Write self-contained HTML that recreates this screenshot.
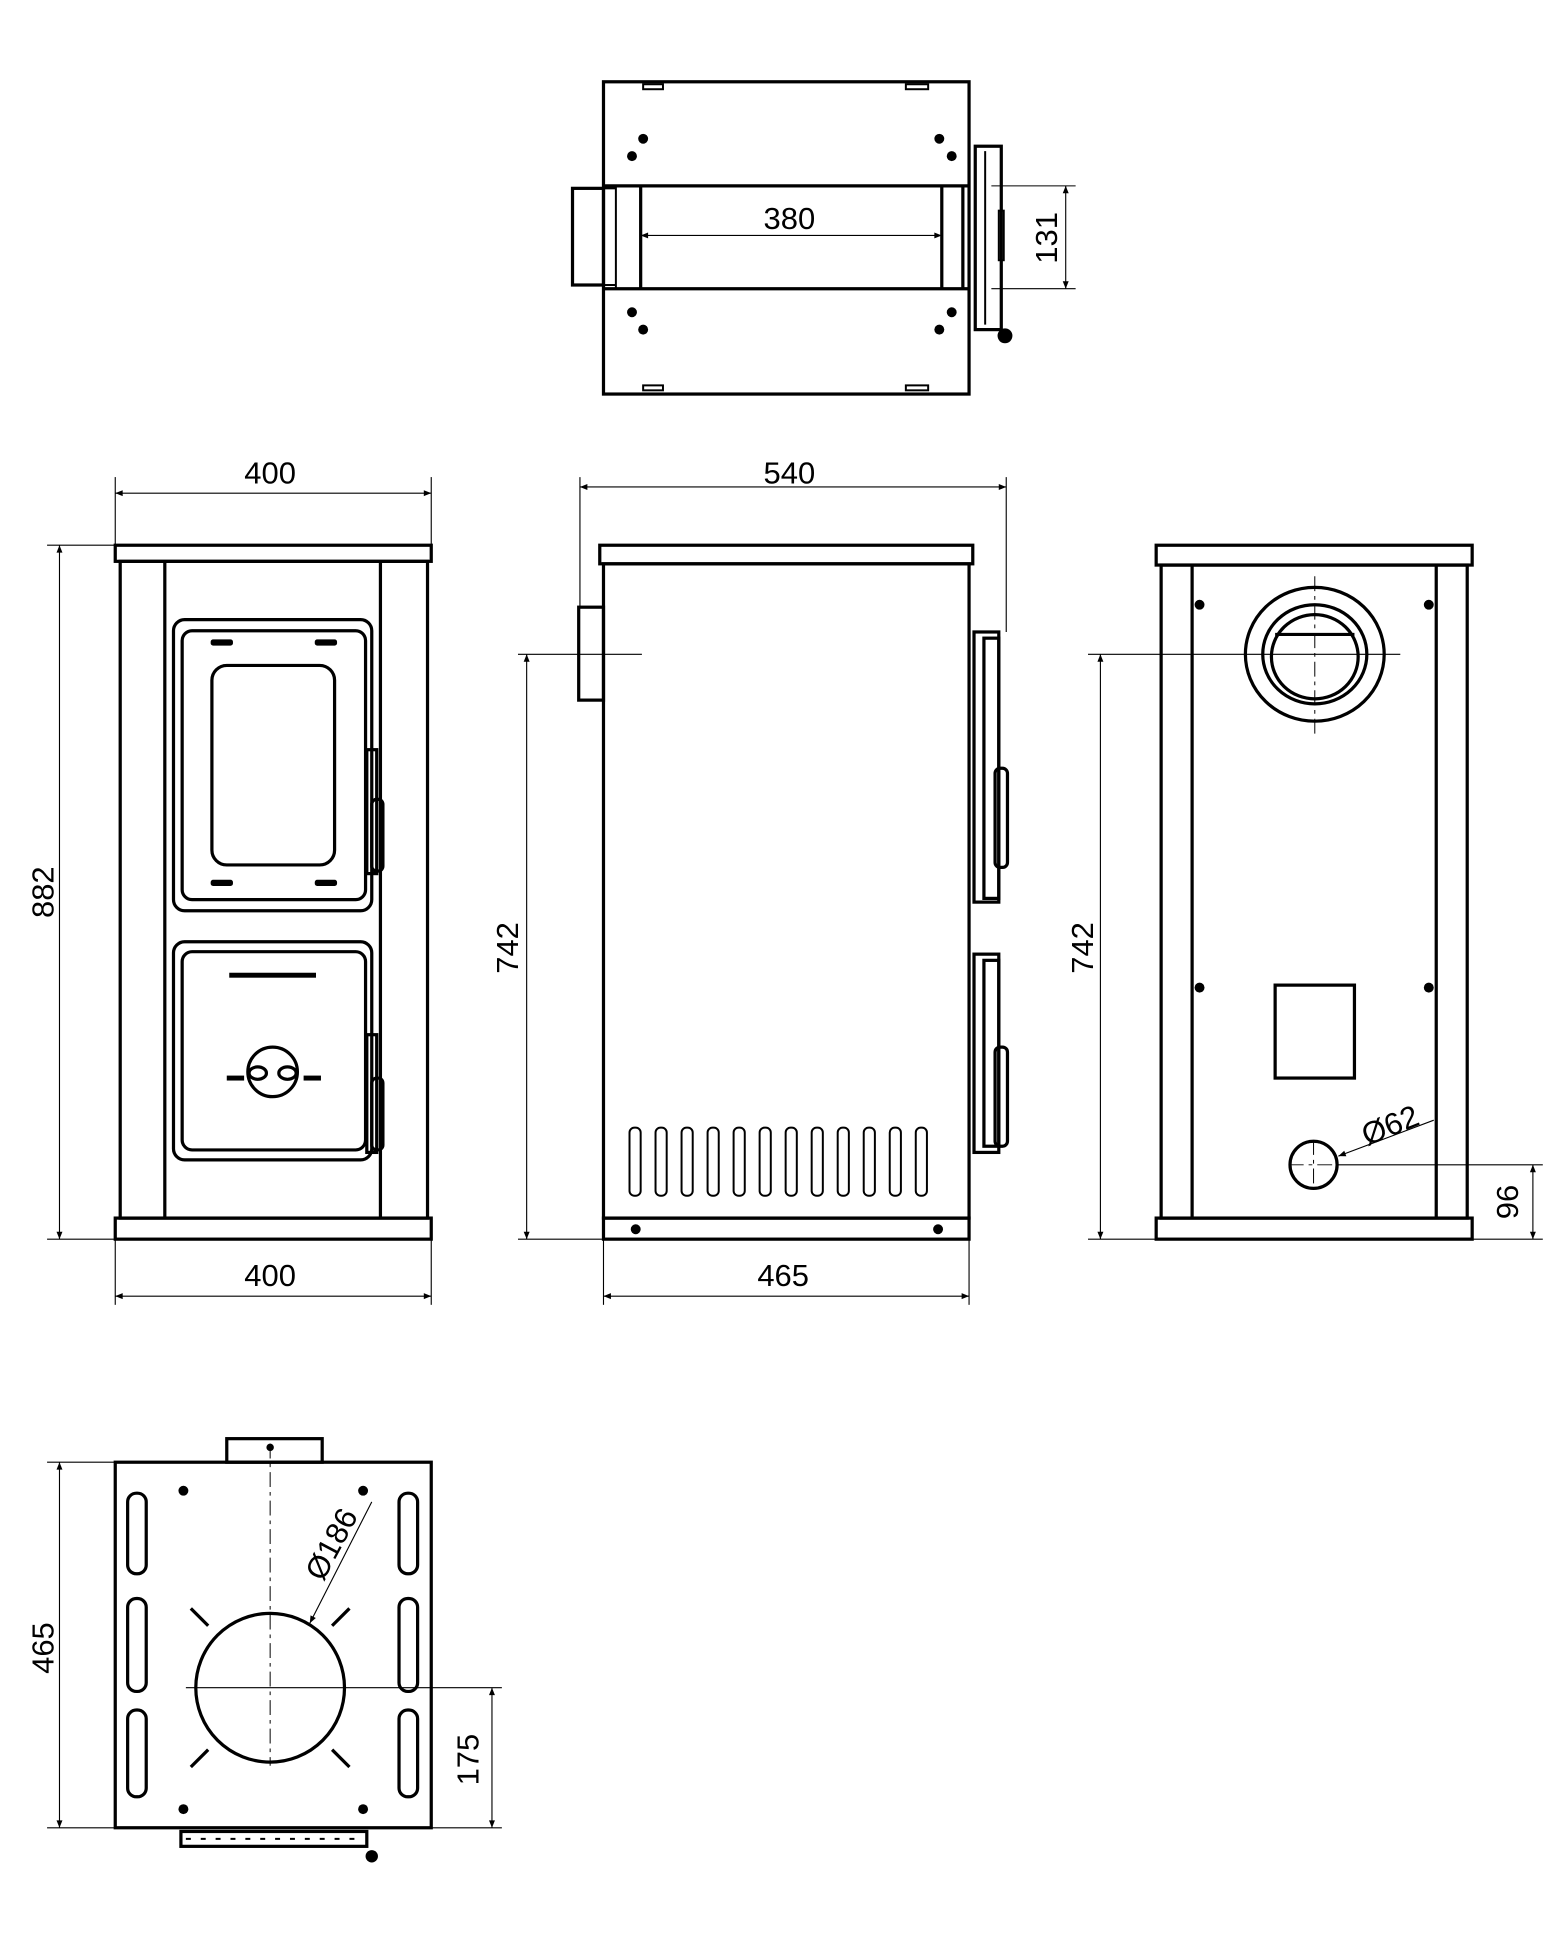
<!DOCTYPE html>
<html><head><meta charset="utf-8"><style>html,body{margin:0;padding:0;background:#fff}svg{display:block}</style></head>
<body>
<svg width="1549" height="1943" viewBox="0 0 1250 1568" preserveAspectRatio="none" xmlns="http://www.w3.org/2000/svg">
<defs>
<marker id="a" viewBox="0 0 10 10" refX="10" refY="5" markerWidth="14" markerHeight="6" markerUnits="userSpaceOnUse" orient="auto-start-reverse"><path d="M0,1 L10,5 L0,9 z" fill="#000"/></marker>
</defs>
<style>
.t{fill:none;stroke:#000;stroke-width:2.6}
.m{fill:none;stroke:#000;stroke-width:1.6}
.d{fill:none;stroke:#000;stroke-width:0.9}
.c{fill:none;stroke:#000;stroke-width:0.8;stroke-dasharray:12 4 3 4}
text{font-family:"Liberation Sans",sans-serif;font-size:25px;fill:#000;font-weight:normal}
</style>

<!-- TOP VIEW -->
<rect class="t" x="487" y="66" width="295" height="252"/>
<line class="t" x1="487" y1="150" x2="782" y2="150"/>
<line class="t" x1="487" y1="233" x2="782" y2="233"/>
<line class="m" x1="497" y1="150" x2="497" y2="233"/>
<line class="t" x1="517" y1="150" x2="517" y2="233"/>
<line class="t" x1="760" y1="150" x2="760" y2="233"/>
<line class="t" x1="777" y1="150" x2="777" y2="233"/>
<rect class="t" x="462" y="152" width="25" height="78"/>
<line class="m" x1="487" y1="152" x2="497" y2="152"/>
<line class="m" x1="487" y1="230" x2="497" y2="230"/>
<rect class="m" x="519" y="68" width="16" height="4"/><rect class="m" x="731" y="68" width="18" height="4"/>
<rect class="m" x="519" y="311" width="16" height="4"/><rect class="m" x="731" y="311" width="18" height="4"/>
<g fill="#000"><circle cx="519" cy="112" r="4"/><circle cx="510" cy="126" r="4"/><circle cx="758" cy="112" r="4"/><circle cx="768" cy="126" r="4"/>
<circle cx="510" cy="252" r="4"/><circle cx="519" cy="266" r="4"/><circle cx="768" cy="252" r="4"/><circle cx="758" cy="266" r="4"/><circle cx="811" cy="271" r="6"/></g>
<rect class="t" x="787" y="118" width="21" height="148"/>
<line class="m" x1="795" y1="122" x2="795" y2="262"/>
<rect class="m" x="806" y="170" width="4" height="40"/>
<line class="d" x1="517" y1="190" x2="760" y2="190" marker-start="url(#a)" marker-end="url(#a)"/>
<text x="637" y="185" text-anchor="middle">380</text>
<line class="d" x1="800" y1="150" x2="868" y2="150"/><line class="d" x1="800" y1="233" x2="868" y2="233"/>
<line class="d" x1="860" y1="150" x2="860" y2="233" marker-start="url(#a)" marker-end="url(#a)"/>
<text transform="translate(853,192) rotate(-90)" text-anchor="middle">131</text>

<!-- FRONT VIEW -->
<rect class="t" x="93" y="440" width="255" height="13"/>
<rect class="t" x="97" y="453" width="248" height="530"/>
<line class="t" x1="133" y1="453" x2="133" y2="983"/>
<line class="t" x1="307" y1="453" x2="307" y2="983"/>
<rect class="t" x="93" y="983" width="255" height="17"/>
<rect class="t" x="140" y="500" width="160" height="235" rx="9"/>
<rect class="t" x="147" y="509" width="148" height="217" rx="8"/>
<rect class="t" x="171" y="537" width="99" height="161" rx="12"/>
<g fill="#000"><rect x="170" y="516" width="18" height="5" rx="2"/><rect x="254" y="516" width="18" height="5" rx="2"/><rect x="170" y="710" width="18" height="5" rx="2"/><rect x="254" y="710" width="18" height="5" rx="2"/>
<rect x="183" y="868" width="14" height="4"/><rect x="245" y="868" width="14" height="4"/><rect x="185" y="785" width="70" height="4"/></g>
<rect class="t" x="296" y="605" width="8" height="100"/><rect class="t" x="300" y="645" width="9" height="58" rx="4"/>
<rect class="t" x="140" y="760" width="160" height="176" rx="9"/>
<rect class="t" x="147" y="768" width="148" height="160" rx="8"/>
<rect class="t" x="296" y="835" width="8" height="95"/><rect class="t" x="300" y="870" width="9" height="58" rx="4"/>
<circle class="t" cx="220" cy="865" r="20"/>
<ellipse class="t" cx="208" cy="866" rx="7" ry="5"/><ellipse class="t" cx="232" cy="866" rx="7" ry="5"/>
<line class="d" x1="93" y1="385" x2="93" y2="440"/><line class="d" x1="348" y1="385" x2="348" y2="440"/>
<line class="d" x1="93" y1="398" x2="348" y2="398" marker-start="url(#a)" marker-end="url(#a)"/>
<text x="218" y="390" text-anchor="middle">400</text>
<line class="d" x1="38" y1="440" x2="93" y2="440"/><line class="d" x1="38" y1="1000" x2="93" y2="1000"/>
<line class="d" x1="48" y1="440" x2="48" y2="1000" marker-start="url(#a)" marker-end="url(#a)"/>
<text transform="translate(43,720) rotate(-90)" text-anchor="middle">882</text>
<line class="d" x1="93" y1="1000" x2="93" y2="1053"/><line class="d" x1="348" y1="1000" x2="348" y2="1053"/>
<line class="d" x1="93" y1="1046" x2="348" y2="1046" marker-start="url(#a)" marker-end="url(#a)"/>
<text x="218" y="1038" text-anchor="middle">400</text>

<!-- SIDE VIEW -->
<rect class="t" x="484" y="440" width="301" height="15"/>
<rect class="t" x="487" y="455" width="295" height="528"/>
<rect class="t" x="487" y="983" width="295" height="17"/>
<g fill="#000"><circle cx="513" cy="992" r="4"/><circle cx="757" cy="992" r="4"/></g>
<rect class="t" x="467" y="490" width="20" height="75"/>
<g class="m">
<rect x="508" y="910" width="9" height="55" rx="4"/><rect x="529" y="910" width="9" height="55" rx="4"/><rect x="550" y="910" width="9" height="55" rx="4"/><rect x="571" y="910" width="9" height="55" rx="4"/><rect x="592" y="910" width="9" height="55" rx="4"/><rect x="613" y="910" width="9" height="55" rx="4"/><rect x="634" y="910" width="9" height="55" rx="4"/><rect x="655" y="910" width="9" height="55" rx="4"/><rect x="676" y="910" width="9" height="55" rx="4"/><rect x="697" y="910" width="9" height="55" rx="4"/><rect x="718" y="910" width="9" height="55" rx="4"/><rect x="739" y="910" width="9" height="55" rx="4"/>
</g>
<rect class="t" x="786" y="510" width="20" height="218"/>
<rect class="t" x="794" y="515" width="12" height="210"/>
<rect class="t" x="803" y="620" width="10" height="80" rx="4"/>
<rect class="t" x="786" y="770" width="20" height="160"/>
<rect class="t" x="794" y="775" width="12" height="150"/>
<rect class="t" x="803" y="845" width="10" height="80" rx="4"/>
<line class="d" x1="468" y1="385" x2="468" y2="490"/><line class="d" x1="812" y1="385" x2="812" y2="510"/>
<line class="d" x1="468" y1="393" x2="812" y2="393" marker-start="url(#a)" marker-end="url(#a)"/>
<text x="637" y="390" text-anchor="middle">540</text>
<line class="d" x1="418" y1="528" x2="518" y2="528"/><line class="d" x1="418" y1="1000" x2="487" y2="1000"/>
<line class="d" x1="425" y1="528" x2="425" y2="1000" marker-start="url(#a)" marker-end="url(#a)"/>
<text transform="translate(418,765) rotate(-90)" text-anchor="middle">742</text>
<line class="d" x1="487" y1="1000" x2="487" y2="1053"/><line class="d" x1="782" y1="1000" x2="782" y2="1053"/>
<line class="d" x1="487" y1="1046" x2="782" y2="1046" marker-start="url(#a)" marker-end="url(#a)"/>
<text x="632" y="1038" text-anchor="middle">465</text>

<!-- BACK VIEW -->
<rect class="t" x="933" y="440" width="255" height="16"/>
<rect class="t" x="937" y="456" width="247" height="527"/>
<line class="t" x1="962" y1="456" x2="962" y2="983"/>
<line class="t" x1="1159" y1="456" x2="1159" y2="983"/>
<rect class="t" x="933" y="983" width="255" height="17"/>
<ellipse class="t" cx="1061" cy="528" rx="56" ry="54"/>
<ellipse class="t" cx="1061" cy="528" rx="42" ry="40"/>
<ellipse class="t" cx="1061" cy="530" rx="35" ry="34"/>
<line class="t" x1="1029" y1="512" x2="1093" y2="512"/>
<line class="c" x1="1061" y1="465" x2="1061" y2="595"/>
<line class="d" x1="878" y1="528" x2="1130" y2="528"/>
<g fill="#000"><circle cx="968" cy="488" r="4"/><circle cx="1153" cy="488" r="4"/><circle cx="968" cy="797" r="4"/><circle cx="1153" cy="797" r="4"/></g>
<rect class="t" x="1029" y="795" width="64" height="75"/>
<circle class="t" cx="1060" cy="940" r="19"/>
<line class="c" x1="1040" y1="940" x2="1080" y2="940"/><line class="c" x1="1060" y1="920" x2="1060" y2="960"/>
<line class="d" x1="1080" y1="940" x2="1245" y2="940"/>
<line class="d" x1="1080" y1="933" x2="1157" y2="904" marker-start="url(#a)"/>
<text transform="translate(1125,916) rotate(-22)" text-anchor="middle">Ø62</text>
<line class="d" x1="878" y1="1000" x2="933" y2="1000"/><line class="d" x1="1188" y1="1000" x2="1245" y2="1000"/>
<line class="d" x1="888" y1="528" x2="888" y2="1000" marker-start="url(#a)" marker-end="url(#a)"/>
<text transform="translate(882,765) rotate(-90)" text-anchor="middle">742</text>
<line class="d" x1="1237" y1="940" x2="1237" y2="1000" marker-start="url(#a)" marker-end="url(#a)"/>
<text transform="translate(1225,970) rotate(-90)" text-anchor="middle">96</text>

<!-- BOTTOM VIEW -->
<rect class="t" x="93" y="1180" width="255" height="295"/>
<rect class="t" x="183" y="1161" width="77" height="19"/>
<g class="t">
<rect x="103" y="1205" width="15" height="65" rx="7"/><rect x="103" y="1290" width="15" height="75" rx="7"/><rect x="103" y="1380" width="15" height="70" rx="7"/>
<rect x="322" y="1205" width="15" height="65" rx="7"/><rect x="322" y="1290" width="15" height="75" rx="7"/><rect x="322" y="1380" width="15" height="70" rx="7"/>
</g>
<g fill="#000"><circle cx="148" cy="1203" r="4"/><circle cx="293" cy="1203" r="4"/><circle cx="148" cy="1460" r="4"/><circle cx="293" cy="1460" r="4"/><circle cx="218" cy="1168" r="3"/><circle cx="300" cy="1498" r="5"/></g>
<circle class="t" cx="218" cy="1362" r="60"/>
<g class="t">
<line x1="168" y1="1312" x2="154" y2="1298"/><line x1="268" y1="1312" x2="282" y2="1298"/>
<line x1="168" y1="1412" x2="154" y2="1426"/><line x1="268" y1="1412" x2="282" y2="1426"/>
</g>
<line class="c" x1="218" y1="1165" x2="218" y2="1425"/>
<line class="d" x1="150" y1="1362" x2="405" y2="1362"/>
<line class="d" x1="250" y1="1310" x2="300" y2="1212" marker-start="url(#a)"/>
<text transform="translate(275,1250) rotate(-62)" text-anchor="middle">Ø186</text>
<rect class="t" x="146" y="1478" width="150" height="12"/>
<line class="m" x1="150" y1="1484" x2="292" y2="1484" stroke-dasharray="4 8"/>
<line class="d" x1="38" y1="1180" x2="93" y2="1180"/><line class="d" x1="38" y1="1475" x2="93" y2="1475"/>
<line class="d" x1="48" y1="1180" x2="48" y2="1475" marker-start="url(#a)" marker-end="url(#a)"/>
<text transform="translate(43,1330) rotate(-90)" text-anchor="middle">465</text>
<line class="d" x1="348" y1="1475" x2="405" y2="1475"/>
<line class="d" x1="397" y1="1362" x2="397" y2="1475" marker-start="url(#a)" marker-end="url(#a)"/>
<text transform="translate(386,1420) rotate(-90)" text-anchor="middle">175</text>
</svg>
</body></html>
